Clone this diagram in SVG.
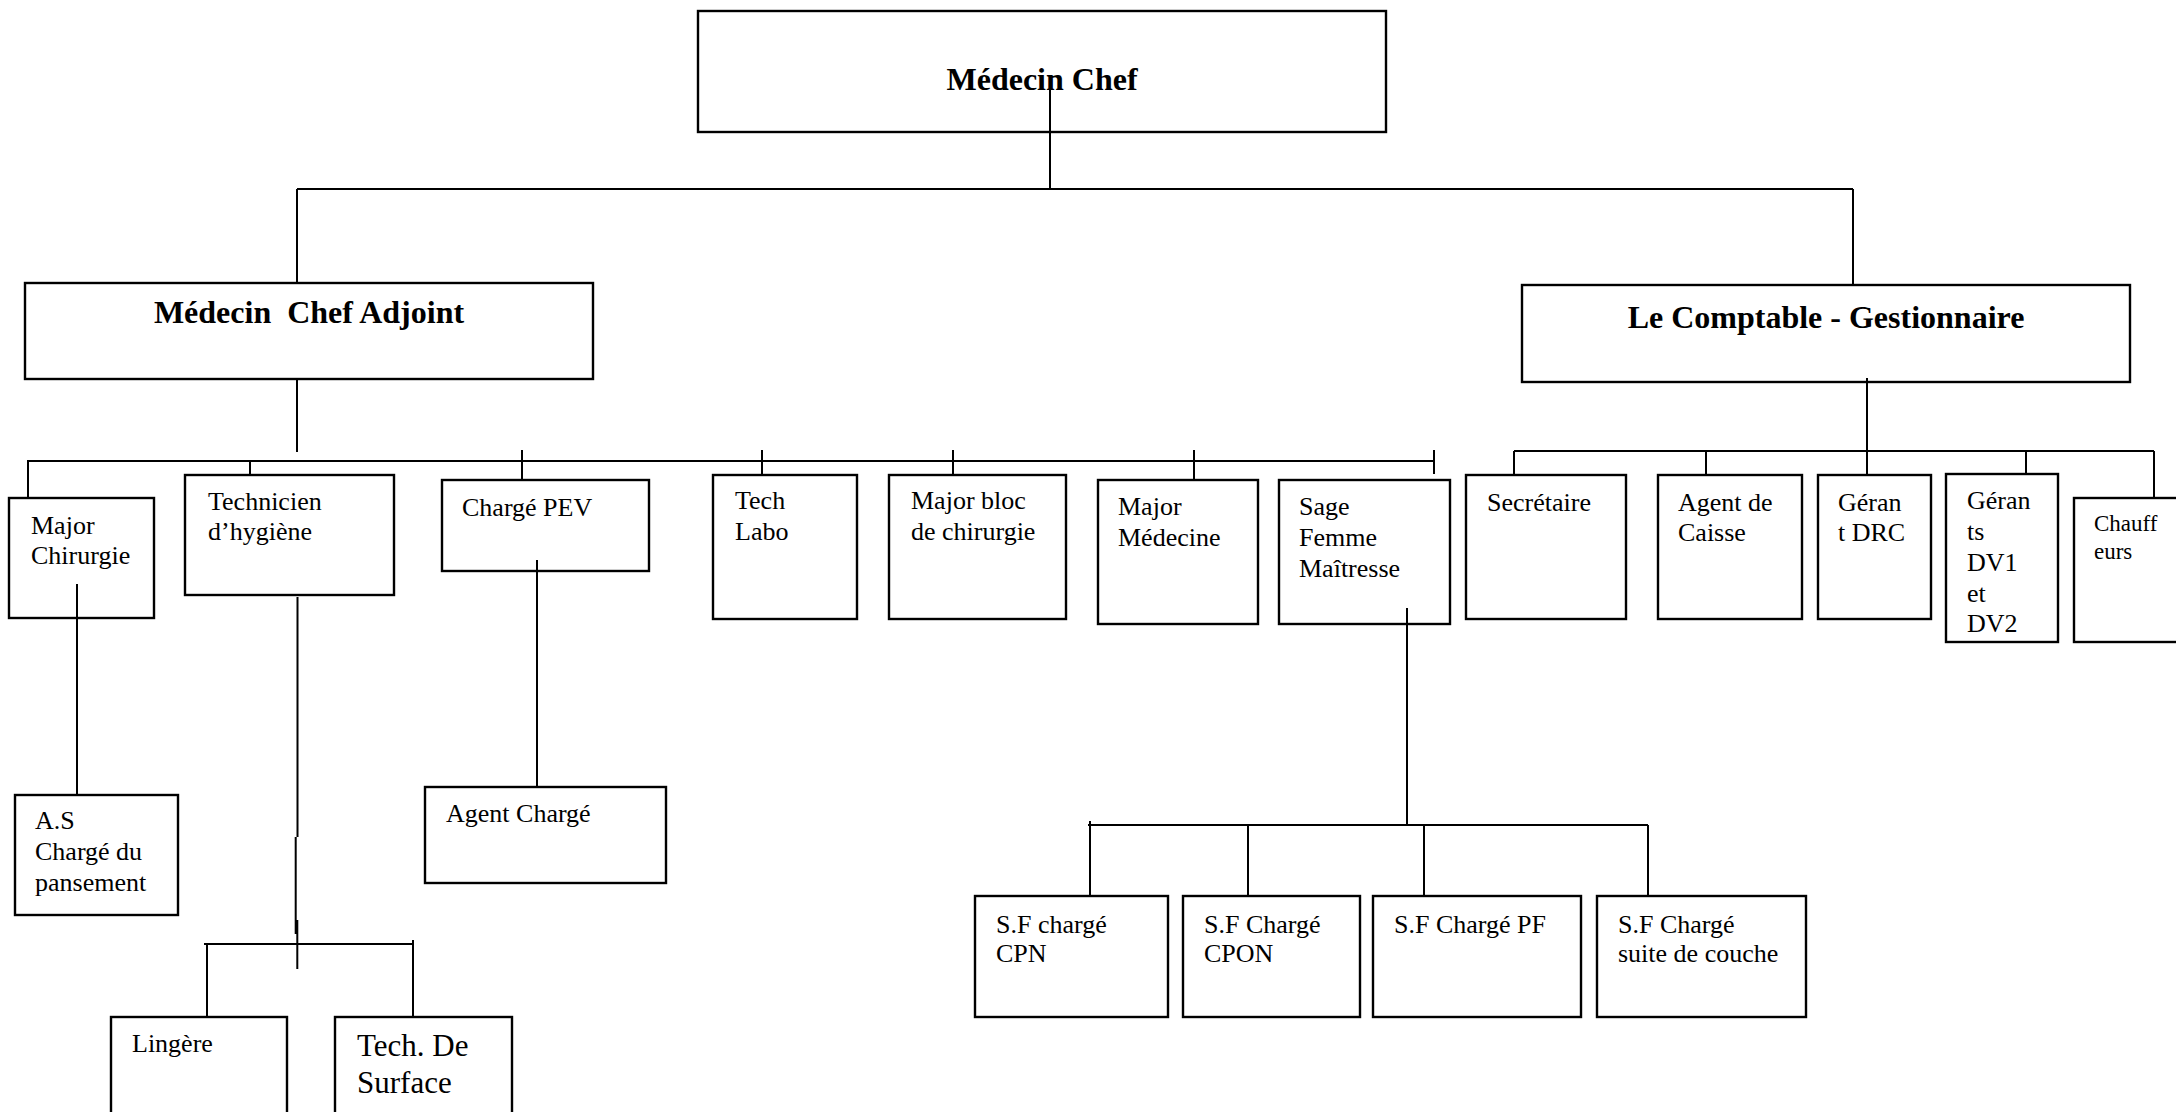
<svg xmlns="http://www.w3.org/2000/svg" width="2176" height="1112" viewBox="0 0 2176 1112">
<style>
.box{fill:#fff;stroke:#000;stroke-width:2.4}
.ln{stroke:#000;stroke-width:2;fill:none}
.t{font-family:"Liberation Serif","Times New Roman",serif;font-size:26px;fill:#000}
.b{font-family:"Liberation Serif","Times New Roman",serif;font-size:32px;font-weight:bold;fill:#000;text-anchor:middle;white-space:pre}
</style>
<rect width="2176" height="1112" fill="#fff"/>
<g id="nodes">
<g id="medecin-chef"><rect class="box" x="698" y="11" width="688" height="121"/><text class="b" x="1042" y="90">Médecin Chef</text></g>
<g id="adjoint"><rect class="box" x="25" y="283" width="568" height="96"/><text class="b" x="309" y="323" xml:space="preserve">Médecin  Chef Adjoint</text></g>
<g id="comptable"><rect class="box" x="1522" y="285" width="608" height="97"/><text class="b" x="1826" y="328">Le Comptable - Gestionnaire</text></g>
<g id="major-chirurgie"><rect class="box" x="9" y="498" width="145" height="120"/><text class="t" x="31" y="534">Major</text><text class="t" x="31" y="564">Chirurgie</text></g>
<g id="technicien"><rect class="box" x="185" y="475" width="209" height="120"/><text class="t" x="208" y="510">Technicien</text><text class="t" x="208" y="540">d’hygiène</text></g>
<g id="charge-pev"><rect class="box" x="442" y="480" width="207" height="91"/><text class="t" x="462" y="516">Chargé PEV</text></g>
<g id="tech-labo"><rect class="box" x="713" y="475" width="144" height="144"/><text class="t" x="735" y="509">Tech</text><text class="t" x="735" y="540">Labo</text></g>
<g id="major-bloc"><rect class="box" x="889" y="475" width="177" height="144"/><text class="t" x="911" y="509">Major bloc</text><text class="t" x="911" y="540">de chirurgie</text></g>
<g id="major-medecine"><rect class="box" x="1098" y="480" width="160" height="144"/><text class="t" x="1118" y="515">Major</text><text class="t" x="1118" y="546">Médecine</text></g>
<g id="sage-femme"><rect class="box" x="1279" y="480" width="171" height="144"/><text class="t" x="1299" y="515">Sage</text><text class="t" x="1299" y="546">Femme</text><text class="t" x="1299" y="577">Maîtresse</text></g>
<g id="secretaire"><rect class="box" x="1466" y="475" width="160" height="144"/><text class="t" x="1487" y="511">Secrétaire</text></g>
<g id="agent-caisse"><rect class="box" x="1658" y="475" width="144" height="144"/><text class="t" x="1678" y="511">Agent de</text><text class="t" x="1678" y="541">Caisse</text></g>
<g id="gerant-drc"><rect class="box" x="1818" y="475" width="113" height="144"/><text class="t" x="1838" y="511">Géran</text><text class="t" x="1838" y="541">t DRC</text></g>
<g id="gerants-dv"><rect class="box" x="1946" y="474" width="112" height="168"/><text class="t" x="1967" y="509">Géran</text><text class="t" x="1967" y="540">ts</text><text class="t" x="1967" y="571">DV1</text><text class="t" x="1967" y="602">et</text><text class="t" x="1967" y="632">DV2</text></g>
<g id="chauffeurs"><rect class="box" x="2074" y="498" width="130" height="144"/><text class="t" x="2094" y="531" style="font-size:23px">Chauff</text><text class="t" x="2094" y="559" style="font-size:23px">eurs</text></g>
<g id="as-pansement"><rect class="box" x="15" y="795" width="163" height="120"/><text class="t" x="35" y="829">A.S</text><text class="t" x="35" y="860">Chargé du</text><text class="t" x="35" y="891">pansement</text></g>
<g id="agent-charge"><rect class="box" x="425" y="787" width="241" height="96"/><text class="t" x="446" y="822">Agent Chargé</text></g>
<g id="lingere"><rect class="box" x="111" y="1017" width="176" height="110"/><text class="t" x="132" y="1052">Lingère</text></g>
<g id="tech-surface"><rect class="box" x="335" y="1017" width="177" height="110"/><text class="t" x="357" y="1056" style="font-size:31px">Tech. De</text><text class="t" x="357" y="1093" style="font-size:31px">Surface</text></g>
<g id="sf-cpn"><rect class="box" x="975" y="896" width="193" height="121"/><text class="t" x="996" y="933">S.F chargé</text><text class="t" x="996" y="962">CPN</text></g>
<g id="sf-cpon"><rect class="box" x="1183" y="896" width="177" height="121"/><text class="t" x="1204" y="933">S.F Chargé</text><text class="t" x="1204" y="962">CPON</text></g>
<g id="sf-pf"><rect class="box" x="1373" y="896" width="208" height="121"/><text class="t" x="1394" y="933">S.F Chargé PF</text></g>
<g id="sf-suite"><rect class="box" x="1597" y="896" width="209" height="121"/><text class="t" x="1618" y="933">S.F Chargé</text><text class="t" x="1618" y="962">suite de couche</text></g>
</g>
<g id="connectors" class="ln">
<path class="ln" d="M1050 90V189M297 189H1853M297 189V283M1853 189V284"/>
<path class="ln" d="M297 379V452M27 461H1434M28 461V498M250 461V475M522 450V480M762 450V475M953 450V475M1194 450V480M1434 450V474"/>
<path class="ln" d="M1867 378V475M1514 451H2154M1514 451V475M1706 451V475M2026 451V474M2154 451V498"/>
<path class="ln" d="M77 584V795M537 560V787"/>
<path class="ln" d="M297.5 597V837M295.7 837V934M297.3 920V969M204 944H413M413 940V1016M207 944V1017"/>
<path class="ln" d="M1407 608V825M1088 825H1648M1090 821V896M1248 825V896M1424 825V896M1648 825V896"/>
</g>
</svg>
